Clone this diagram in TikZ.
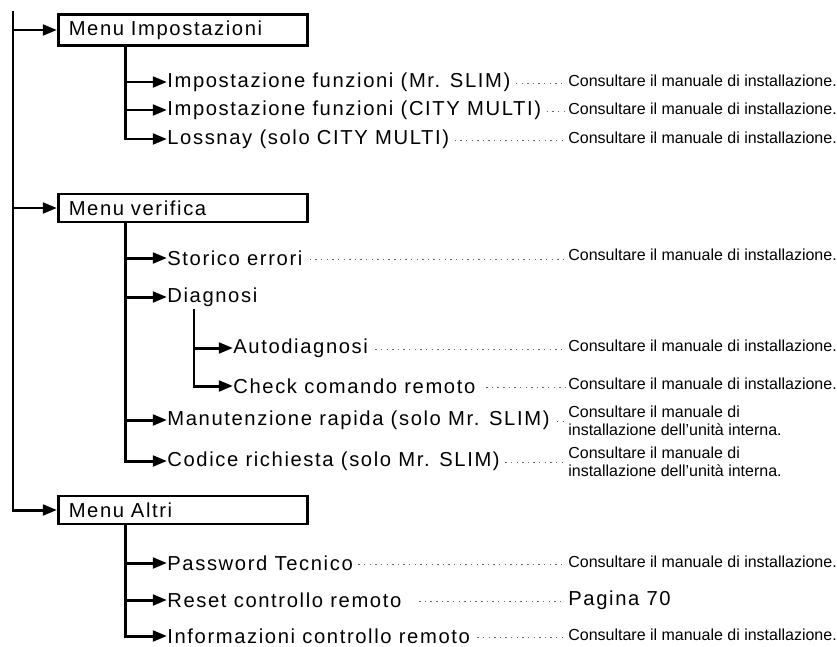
\documentclass[tikz,border=0pt]{standalone}
\usepackage{fontspec}
\setmainfont{Liberation Sans}
\newfontfamily\spaced[LetterSpace=8]{Liberation Sans}
\usepackage{tikz}
\usetikzlibrary{arrows.meta, positioning}

\begin{document}
\begin{tikzpicture}[x=0.02cm, y=-0.02cm,
    menubox/.style={draw, line width=1.5pt, anchor=west, minimum height=0.56cm,
                    text width=4.56cm, inner xsep=0.21cm, align=left,
                    font=\spaced\fontsize{11.5}{13}\selectfont},
    voce/.style={anchor=west, inner sep=0pt, font=\spaced\fontsize{11.5}{13}\selectfont},
    nota/.style={anchor=west, inner sep=0pt, align=left, font=\fontsize{9.1}{10}\selectfont},
    tronco/.style={line width=1.7pt},
    arr/.style={tronco, -{Triangle[length=8pt, width=6pt]}},
    leader/.style={black!60, line width=0.8pt, dash pattern=on 0.8pt off 2.4pt}
]
    \useasboundingbox (0,0) rectangle (837,646);

    % main menus
    \coordinate (top) at (13,11);
    \node[menubox] (impostazioni) at (57,30) {Menu Impostazioni};
    \node[menubox] (verifica) at (57,208) {Menu verifica};
    \node[menubox] (altri) at (57,510) {Menu Altri};
    \draw[arr] (top) |- (altri.west);
    \foreach \m in {impostazioni, verifica}
        \draw[arr] (top |- \m.west) -- (\m.west);

    % Menu Impostazioni
    \node[voce] (fmrslim) at (167,82) {Impostazione funzioni (Mr. SLIM)};
    \node[voce] (fcity) at (167,110) {Impostazione funzioni (CITY MULTI)};
    \node[voce] (lossnay) at (167,139) {Lossnay (solo CITY MULTI)};
    \coordinate (r1) at ([xshift=1.38cm]impostazioni.south west);
    \draw[arr] (r1) |- (lossnay.west);
    \foreach \c in {fmrslim, fcity}
        \draw[arr] (r1 |- \c.west) -- (\c.west);

    % Menu verifica
    \node[voce] (storico) at (167,258) {Storico errori};
    \node[voce] (diagnosi) at (167,297) {Diagnosi};
    \node[voce] (autodiag) at (233,348) {Autodiagnosi};
    \node[voce] (check) at (233,386) {Check comando remoto};
    \node[voce] (manut) at (167,420) {Manutenzione rapida (solo Mr. SLIM)};
    \node[voce] (codice) at (167,461) {Codice richiesta (solo Mr. SLIM)};
    \coordinate (r2) at ([xshift=1.38cm]verifica.south west);
    \draw[arr] (r2) |- (codice.west);
    \foreach \c in {storico, diagnosi, manut}
        \draw[arr] (r2 |- \c.west) -- (\c.west);
    \coordinate (r3) at ([xshift=0.54cm]diagnosi.south west);
    \draw[arr] ([yshift=-1pt]r3) |- (check.west);
    \draw[arr] (r3 |- autodiag.west) -- (autodiag.west);

    % Menu Altri
    \node[voce] (password) at (167,563) {Password Tecnico};
    \node[voce] (reset) at (167,600) {Reset controllo remoto};
    \node[voce] (info) at (167,636) {Informazioni controllo remoto};
    \coordinate (r4) at ([xshift=1.38cm]altri.south west);
    \draw[arr] (r4) |- (info.west);
    \foreach \c in {password, reset}
        \draw[arr] (r4 |- \c.west) -- (\c.west);

    % references
    \node[nota] (n1) at (568,81) {Consultare il manuale di installazione.};
    \node[nota] (n2) at (568,109) {Consultare il manuale di installazione.};
    \node[nota] (n3) at (568,138) {Consultare il manuale di installazione.};
    \node[nota] (n4) at (568,255) {Consultare il manuale di installazione.};
    \node[nota] (n5) at (568,346) {Consultare il manuale di installazione.};
    \node[nota] (n6) at (568,384) {Consultare il manuale di installazione.};
    \node[nota] (n7) at (568,421) {Consultare il manuale di\\installazione dell'unità interna.};
    \node[nota] (n8) at (568,462) {Consultare il manuale di\\installazione dell'unità interna.};
    \node[nota] (n9) at (568,562) {Consultare il manuale di installazione.};
    \node[voce] (n10) at (568,600) {Pagina 70};
    \node[nota] (n11) at (568,635) {Consultare il manuale di installazione.};

    \foreach \v/\n/\g in {fmrslim/n1/3pt, fcity/n2/3pt, lossnay/n3/3pt, storico/n4/4pt,
                          autodiag/n5/4pt, check/n6/6pt, manut/n7/4pt, codice/n8/3pt,
                          password/n9/3pt, reset/n10/10pt, info/n11/4pt}
        \draw[leader] ([xshift=\g, yshift=-1pt]\v.east) -- ([xshift=-1.5pt, yshift=-1pt]\v.east -| \n.west);
\end{tikzpicture}
\end{document}
